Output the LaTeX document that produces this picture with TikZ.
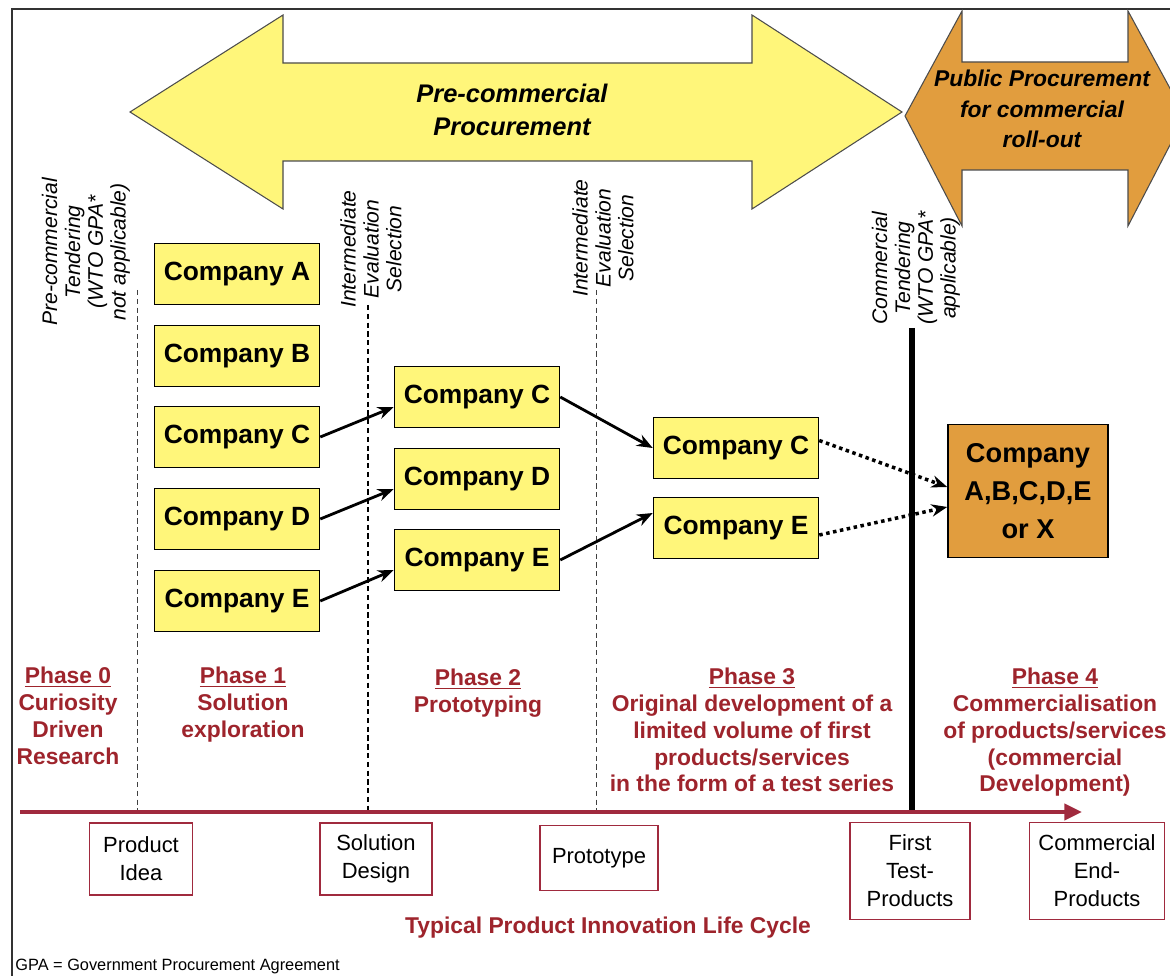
\documentclass[tikz,border=0pt]{standalone}
\usepackage{fontspec}
\setmainfont{Liberation Sans}
\usetikzlibrary{arrows.meta}
\definecolor{pcyellow}{RGB}{255,246,122}
\definecolor{pporange}{RGB}{225,157,62}
\definecolor{phasered}{RGB}{158,36,44}
\definecolor{axisred}{RGB}{160,42,62}
\tikzset{
  company/.style={draw=black, line width=0.9pt, fill=pcyellow, minimum width=3.3cm, minimum height=1.22cm, inner sep=0pt, font=\bfseries\fontsize{15}{18}\selectfont},
  tlabel/.style={rotate=90, align=center, inner sep=0pt, font=\itshape\fontsize{12}{13}\selectfont},
  phase/.style={anchor=north, align=center, inner sep=0pt, text=phasered, font=\bfseries\fontsize{13}{15.2}\selectfont},
  milestone/.style={draw=axisred, line width=0.8pt, fill=white, align=center, inner sep=0pt, font=\fontsize{12.5}{16}\selectfont},
  divider/.style={densely dashed, line width=0.5pt, black!75},
  flow/.style={->, line width=1.6pt},
  offer/.style={->, line width=2pt, dash pattern=on 2pt off 2pt}
}
\begin{document}
\begin{tikzpicture}[x=0.02cm, y=-0.02cm, >={Stealth[length=9pt,width=7pt]}]
\clip (0,0) rectangle (1170,976);
\fill[white] (0,0) rectangle (1170,976);
\draw[line width=0.8pt, black!80] (12,976) -- (12,9) -- (1170,9);

% procurement arrows
\filldraw[fill=pcyellow, draw=black!70, line width=0.6pt] (130,112) -- (283,15) -- (283,63) -- (752,63) -- (752,15) -- (902,112) -- (752,209) -- (752,161) -- (283,161) -- (283,209) -- cycle;
\node[align=center, font=\bfseries\itshape\fontsize{14.5}{18.7}\selectfont] (pcp) at (512,110) {Pre-commercial\\Procurement};
\filldraw[fill=pporange, draw=black!70, line width=0.6pt] (905,116) -- (962,11) -- (962,62) -- (1128,62) -- (1128,11) -- (1185,116) -- (1128,226) -- (1128,170) -- (962,170) -- (962,226) -- cycle;
\node[align=center, font=\bfseries\itshape\fontsize{13}{17.5}\selectfont] (ppc) at (1042,109) {Public Procurement\\for commercial\\roll-out};

% tendering and selection points
\node[tlabel] (tend0) at (86,252) {Pre-commercial\\Tendering\\(WTO GPA*\\not applicable)};
\node[tlabel] (sel1) at (371,249) {Intermediate\\Evaluation\\Selection};
\node[tlabel] (sel2) at (603,238) {Intermediate\\Evaluation\\Selection};
\node[tlabel] (tend4) at (916,268) {Commercial\\Tendering\\(WTO GPA*\\applicable)};
\draw[divider] (137,290) -- (137,812);
\draw[divider, line width=0.9pt, black] (368,305) -- (368,812);
\draw[divider] (596,290) -- (596,812);
\draw[line width=3.2pt] (912,328) -- (912,812);

% companies
\node[company] (coA) at (237,274) {Company A};
\node[company] (coB) at (237,356) {Company B};
\node[company] (coC) at (237,437) {Company C};
\node[company] (coD) at (237,519) {Company D};
\node[company] (coE) at (237,601) {Company E};
\node[company] (ptC) at (477,397) {Company C};
\node[company] (ptD) at (477,479) {Company D};
\node[company] (ptE) at (477,560) {Company E};
\node[company] (tsC) at (736,448) {Company C};
\node[company] (tsE) at (736,528) {Company E};
\node[company, fill=pporange, minimum width=3.2cm, minimum height=2.66cm, align=center, font=\bfseries\fontsize{15.5}{21.5}\selectfont] (all) at (1028,491) {Company\\A,B,C,D,E\\or X};

\draw[flow] (coC.east) -- ([yshift=-2mm]ptC.west);
\draw[flow] (coD.east) -- ([yshift=-2mm]ptD.west);
\draw[flow] (coE.east) -- ([yshift=-2mm]ptE.west);
\draw[flow] (ptC.east) -- (tsC.west);
\draw[flow] (ptE.east) -- ([yshift=3mm]tsE.west);
\draw[offer] ([yshift=1.5mm]tsC.east) -- ([yshift=0.8mm]all.west);
\draw[offer] ([yshift=-1.4mm]tsE.east) -- ([yshift=-3.2mm]all.west);

% life cycle
\coordinate (axL) at (20,812);
\coordinate (axR) at (1082,812);
\draw[->, axisred, line width=2.4pt, >={Triangle[length=10pt,width=9pt]}] (axL) -- (axR);

\node[phase] (ph0) at (68,667) {\underline{Phase 0}\\Curiosity\\Driven\\Research};
\node[phase] (ph1) at (243,667) {\underline{Phase 1}\\Solution\\exploration};
\node[phase] (ph2) at (478,669) {\underline{Phase 2}\\Prototyping};
\node[phase] (ph3) at (752,668) {\underline{Phase 3}\\Original development of a\\limited volume of first\\products/services\\in the form of a test series};
\node[phase] (ph4) at (1055,668) {\underline{Phase 4}\\Commercialisation\\of products/services\\(commercial\\Development)};

\node[milestone, minimum width=2.06cm, minimum height=1.44cm] (idea) at (141,859) {Product\\Idea};
\node[milestone, minimum width=2.24cm, minimum height=1.44cm] (design) at (376,859) {Solution\\Design};
\node[milestone, minimum width=2.36cm, minimum height=1.3cm] (proto) at (599,858) {Prototype};
\node[milestone, minimum width=2.4cm, minimum height=1.94cm] (first) at (910,871) {First\\Test-\\Products};
\node[milestone, minimum width=2.7cm, minimum height=1.94cm] (endp) at (1097,871) {Commercial\\End-\\Products};

\node[text=phasered, font=\bfseries\fontsize{13}{15}\selectfont] (cycle) at (608,928) {Typical Product Innovation Life Cycle};
\node[anchor=west, inner sep=0pt, font=\fontsize{9.3}{11}\selectfont] (gpa) at (15,966) {GPA = Government Procurement Agreement};
\end{tikzpicture}
\end{document}
